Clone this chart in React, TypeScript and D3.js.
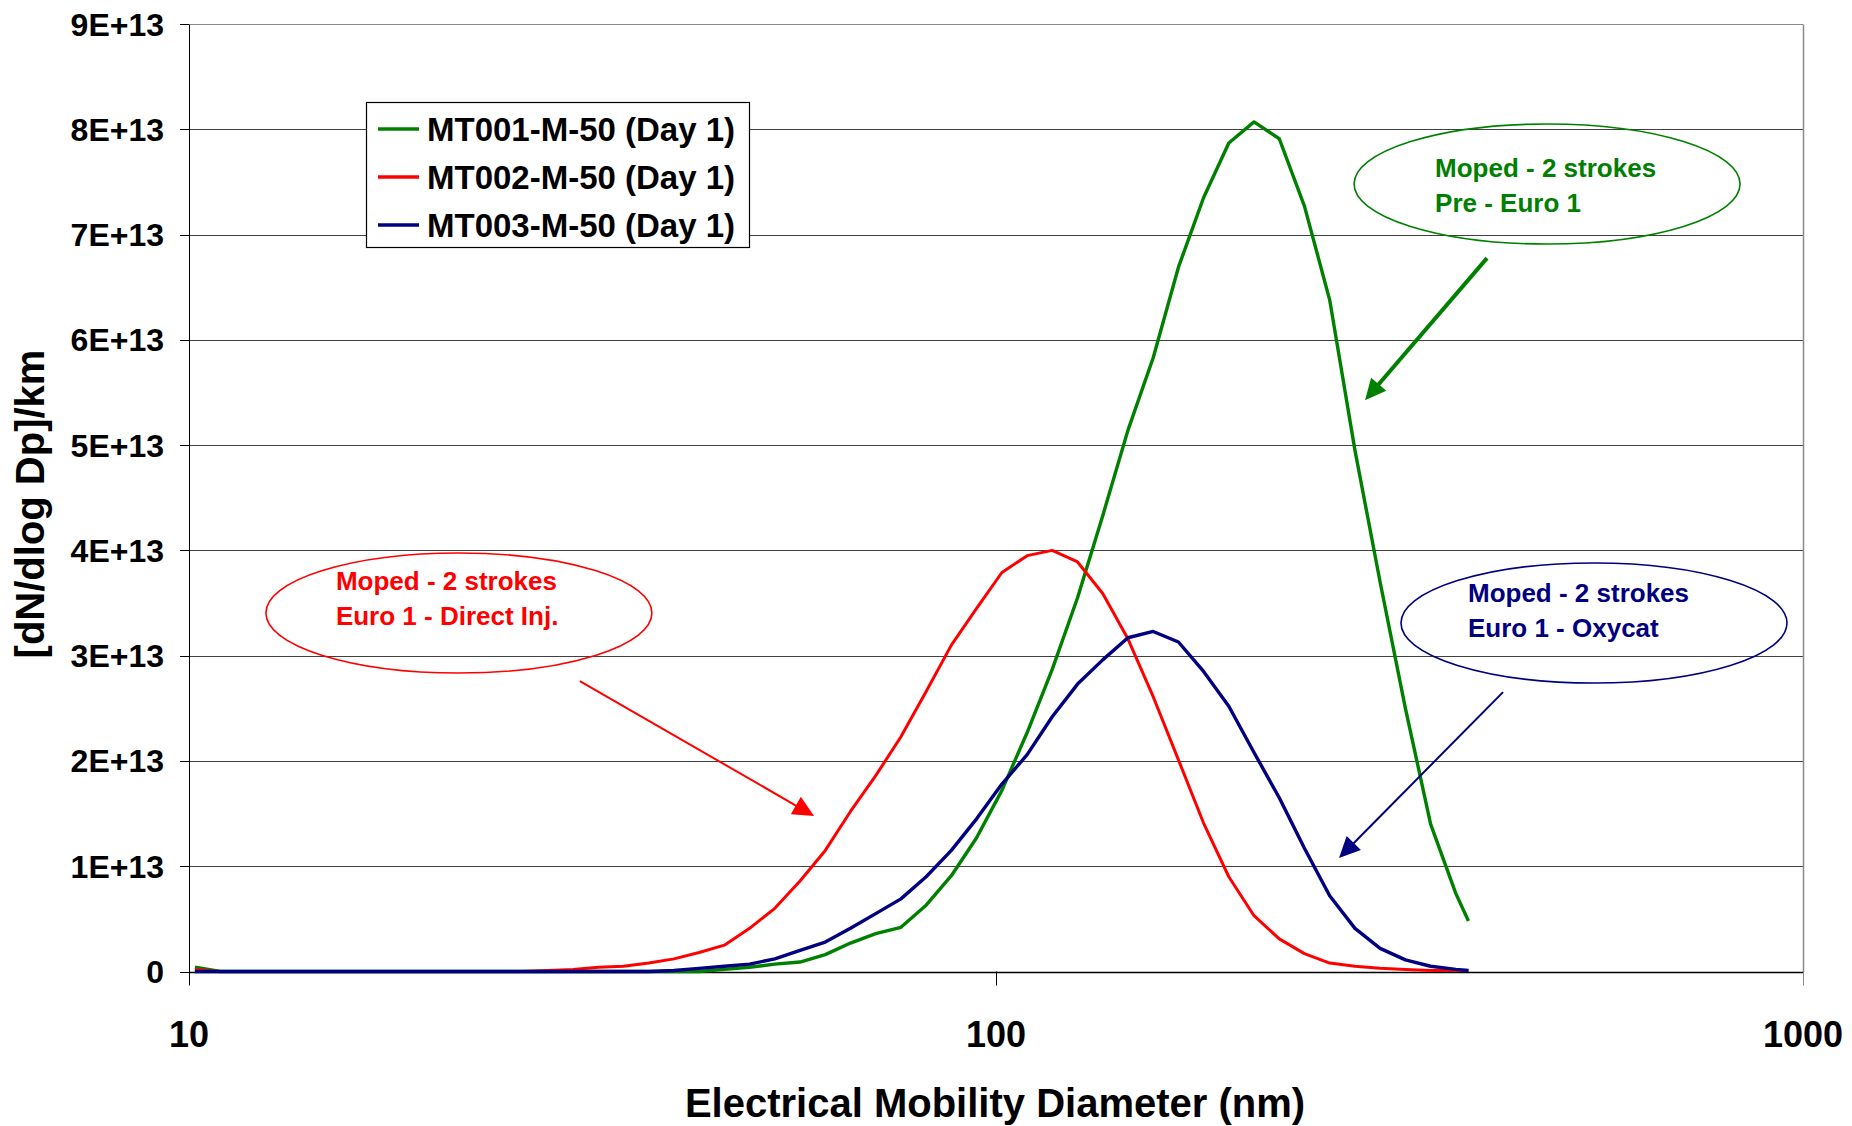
// App.tsx
import { useRef, useEffect } from "react";
import { select, scaleLog, scaleLinear, line } from "d3";

// SMPS channel diameters (nm)
const diameters = [
  10.17, 10.93, 11.74, 12.62, 13.56, 14.57, 15.66, 16.83, 18.08, 19.43, 20.88,
  22.44, 24.11, 25.91, 27.84, 29.92, 32.15, 34.55, 37.13, 39.9, 42.87, 46.07,
  49.51, 53.2, 57.17, 61.44, 66.02, 70.95, 76.24, 81.93, 88.04, 94.61, 101.7,
  109.3, 117.4, 126.2, 135.6, 145.7, 156.6, 168.3, 180.8, 194.3, 208.8, 224.4,
  241.1, 259.1, 278.5, 299.2, 321.6, 345.6, 371.4, 385.0,
];

// dN/dlogDp per km, in units of 1E+13
const mt001 = [
  0.04, 0, 0, 0, 0, 0, 0, 0, 0, 0, 0, 0, 0, 0, 0, 0, 0, 0, 0, 0, 0, 0.02, 0.04,
  0.07, 0.09, 0.16, 0.27, 0.36, 0.42, 0.63, 0.91, 1.27, 1.72, 2.27, 2.87, 3.55,
  4.33, 5.14, 5.83, 6.69, 7.35, 7.87, 8.07, 7.91, 7.27, 6.38, 4.95, 3.7, 2.5,
  1.4, 0.74, 0.48,
];
const mt002 = [
  0.02, 0, 0, 0, 0, 0, 0, 0, 0, 0, 0, 0, 0, 0, 0.01, 0.02, 0.04, 0.05, 0.08,
  0.12, 0.18, 0.25, 0.41, 0.6, 0.86, 1.15, 1.52, 1.86, 2.23, 2.66, 3.1, 3.45,
  3.79, 3.95, 4.0, 3.89, 3.59, 3.16, 2.61, 2.01, 1.41, 0.9, 0.53, 0.31, 0.17,
  0.08, 0.05, 0.03, 0.02, 0.01, 0.01, 0.01,
];
const mt003 = [
  0, 0, 0, 0, 0, 0, 0, 0, 0, 0, 0, 0, 0, 0, 0, 0, 0, 0, 0, 0.01, 0.03, 0.05,
  0.07, 0.12, 0.2, 0.28, 0.41, 0.55, 0.69, 0.9, 1.15, 1.45, 1.78, 2.06, 2.42,
  2.73, 2.96, 3.17, 3.23, 3.13, 2.85, 2.52, 2.08, 1.65, 1.17, 0.72, 0.41, 0.22,
  0.11, 0.05, 0.02, 0.01,
];

const seriesNames = [
  "MT001-M-50 (Day 1)",
  "MT002-M-50 (Day 1)",
  "MT003-M-50 (Day 1)",
];
const seriesColors = ["#008000", "#ff0000", "#000080"];

const yTicks = [0, 1, 2, 3, 4, 5, 6, 7, 8, 9];
const yTickLabels = [
  "0", "1E+13", "2E+13", "3E+13", "4E+13", "5E+13", "6E+13", "7E+13", "8E+13", "9E+13",
];
const xTicks = [10, 100, 1000];
const xTickLabels = ["10", "100", "1000"];

// callouts, anchored in data space: [diameter, value]
const noteText = [
  ["Moped - 2 strokes", "Pre - Euro 1"],
  ["Moped - 2 strokes", "Euro 1 - Direct Inj."],
  ["Moped - 2 strokes", "Euro 1 - Oxycat"],
];
const noteCenter = [
  [481.8, 7.48],
  [21.6, 3.405],
  [550.8, 3.31],
];
const arrowFrom = [
  [405.9, 6.776],
  [30.5, 2.759],
  [424.9, 2.654],
];
const arrowTo = [
  [286.6, 5.427],
  [59.5, 1.477],
  [266.1, 1.078],
];

const W = 1852;
const H = 1126;
const FONT = "'Liberation Sans', Arial, Helvetica, sans-serif";

export default function App() {
  const ref = useRef<SVGSVGElement>(null);

  useEffect(() => {
    if (!ref.current) return;
    document.body.style.margin = "0";
    const svg = select(ref.current);
    svg.selectAll("*").remove();

    const x = scaleLog().domain([10, 1000]).range([189, 1803]);
    const y = scaleLinear().domain([0, 9]).range([971.5, 24]);
    const crisp = (v: number) => Math.round(v) + 0.5;

    // gridlines
    svg
      .append("g")
      .selectAll("line")
      .data(yTicks.slice(1))
      .enter()
      .append("line")
      .attr("x1", 189)
      .attr("x2", 1803)
      .attr("y1", (d) => crisp(y(d)))
      .attr("y2", (d) => crisp(y(d)))
      .attr("stroke", (d) => (d === 9 ? "#8a8a8a" : "#404040"))
      .attr("stroke-width", 1.2);

    // right border
    svg
      .append("line")
      .attr("x1", 1803.5)
      .attr("x2", 1803.5)
      .attr("y1", crisp(y(9)))
      .attr("y2", crisp(y(0)))
      .attr("stroke", "#8a8a8a")
      .attr("stroke-width", 1.5);

    // y axis
    svg
      .append("line")
      .attr("x1", 189.5)
      .attr("x2", 189.5)
      .attr("y1", crisp(y(9)))
      .attr("y2", crisp(y(0)))
      .attr("stroke", "#000");
    svg
      .append("g")
      .selectAll("line")
      .data(yTicks)
      .enter()
      .append("line")
      .attr("x1", 180)
      .attr("x2", 189)
      .attr("y1", (d) => crisp(y(d)))
      .attr("y2", (d) => crisp(y(d)))
      .attr("stroke", "#000");
    svg
      .append("g")
      .selectAll("text")
      .data(yTicks)
      .enter()
      .append("text")
      .attr("x", 164)
      .attr("y", (d) => y(d))
      .attr("dy", "0.36em")
      .attr("text-anchor", "end")
      .attr("font-family", FONT)
      .attr("font-weight", "bold")
      .attr("font-size", 32)
      .text((_d, i) => yTickLabels[i]);

    // x axis
    svg
      .append("line")
      .attr("x1", 189)
      .attr("x2", 1803)
      .attr("y1", crisp(y(0)))
      .attr("y2", crisp(y(0)))
      .attr("stroke", "#000")
      .attr("stroke-width", 1.5);
    svg
      .append("g")
      .selectAll("line")
      .data(xTicks)
      .enter()
      .append("line")
      .attr("x1", (d) => crisp(x(d)))
      .attr("x2", (d) => crisp(x(d)))
      .attr("y1", y(0))
      .attr("y2", y(0) + 14)
      .attr("stroke", (d) => (d === 1000 ? "#8a8a8a" : "#000"));
    svg
      .append("g")
      .selectAll("text")
      .data(xTicks)
      .enter()
      .append("text")
      .attr("x", (d) => x(d))
      .attr("y", 1047)
      .attr("text-anchor", "middle")
      .attr("font-family", FONT)
      .attr("font-weight", "bold")
      .attr("font-size", 36)
      .text((_d, i) => xTickLabels[i]);

    // axis titles
    svg
      .append("text")
      .attr("x", 995)
      .attr("y", 1117)
      .attr("text-anchor", "middle")
      .attr("font-family", FONT)
      .attr("font-weight", "bold")
      .attr("font-size", 40)
      .text("Electrical Mobility Diameter (nm)");
    svg
      .append("text")
      .attr("transform", "translate(44, 504) rotate(-90)")
      .attr("text-anchor", "middle")
      .attr("font-family", FONT)
      .attr("font-weight", "bold")
      .attr("font-size", 40)
      .text("[dN/dlog Dp]/km");

    // curves
    const gen = line<[number, number]>()
      .x((d) => x(d[0]))
      .y((d) => y(d[1]));
    [mt001, mt002, mt003].forEach((vals, i) => {
      svg
        .append("path")
        .datum(diameters.map((d, k) => [d, vals[k]] as [number, number]))
        .attr("d", gen)
        .attr("fill", "none")
        .attr("stroke", seriesColors[i])
        .attr("stroke-width", i === 1 ? 3 : 3.4)
        .attr("stroke-linejoin", "round");
    });

    // callouts
    noteText.forEach((lines, i) => {
      const cx = x(noteCenter[i][0]);
      const cy = y(noteCenter[i][1]);
      const color = seriesColors[i];
      svg
        .append("ellipse")
        .attr("cx", cx)
        .attr("cy", cy)
        .attr("rx", 193)
        .attr("ry", 60)
        .attr("fill", "none")
        .attr("stroke", color)
        .attr("stroke-width", 1.6);
      const dyTop = i === 0 ? -7 : i === 1 ? -23 : -21;
      lines.forEach((t, j) => {
        svg
          .append("text")
          .attr("x", cx + (i === 0 ? -112 : i === 1 ? -123 : -126))
          .attr("y", cy + dyTop + j * 35)
          .attr("font-family", FONT)
          .attr("font-weight", "bold")
          .attr("font-size", 26)
          .attr("fill", color)
          .text(t);
      });

      // arrow
      const x0 = x(arrowFrom[i][0]);
      const y0 = y(arrowFrom[i][1]);
      const x1 = x(arrowTo[i][0]);
      const y1 = y(arrowTo[i][1]);
      const len = Math.hypot(x1 - x0, y1 - y0);
      const ux = (x1 - x0) / len;
      const uy = (y1 - y0) / len;
      const headLen = 21;
      const headW = 10;
      const bx = x1 - ux * headLen;
      const by = y1 - uy * headLen;
      svg
        .append("line")
        .attr("x1", x0)
        .attr("y1", y0)
        .attr("x2", bx + ux * 2)
        .attr("y2", by + uy * 2)
        .attr("stroke", color)
        .attr("stroke-width", i === 0 ? 4 : 2);
      svg
        .append("polygon")
        .attr(
          "points",
          [
            [x1, y1],
            [bx - uy * headW, by + ux * headW],
            [bx + uy * headW, by - ux * headW],
          ]
            .map((p) => p.join(","))
            .join(" ")
        )
        .attr("fill", color);
    });

    // legend
    const lg = svg.append("g");
    lg.append("rect")
      .attr("x", 366.5)
      .attr("y", 102.5)
      .attr("width", 383)
      .attr("height", 145)
      .attr("fill", "#fff")
      .attr("stroke", "#000")
      .attr("stroke-width", 1.2);
    seriesNames.forEach((name, i) => {
      const ry = 129 + i * 48;
      lg.append("line")
        .attr("x1", 378)
        .attr("x2", 419)
        .attr("y1", ry)
        .attr("y2", ry)
        .attr("stroke", seriesColors[i])
        .attr("stroke-width", 3.4);
      lg.append("text")
        .attr("x", 427)
        .attr("y", ry)
        .attr("dy", "0.36em")
        .attr("font-family", FONT)
        .attr("font-weight", "bold")
        .attr("font-size", 33)
        .text(name);
    });
  }, []);

  return (
    <svg
      ref={ref}
      width={W}
      height={H}
      viewBox={`0 0 ${W} ${H}`}
      style={{ display: "block", background: "#fff" }}
    />
  );
}
